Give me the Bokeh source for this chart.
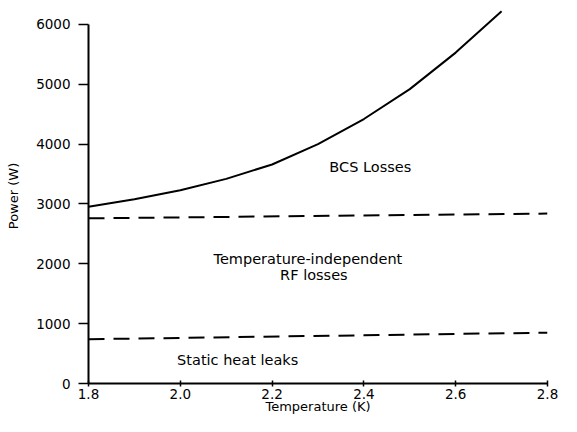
from bokeh.plotting import figure
from bokeh.models import Range1d, FixedTicker
from bokeh.embed import file_html
from bokeh.resources import INLINE
from bokeh.core.properties import value

# Data
temp_bcs = [1.80, 1.90, 2.00, 2.10, 2.20, 2.30, 2.40, 2.50, 2.60, 2.70]
power_total = [2955, 3080, 3230, 3420, 3660, 4000, 4420, 4920, 5530, 6220]

temp_flat = [1.80, 2.80]
power_rf = [2760, 2840]
power_static = [740, 850]

x_ticks = [1.8, 2.0, 2.2, 2.4, 2.6, 2.8]
y_ticks = [0, 1000, 2000, 3000, 4000, 5000, 6000]

labels = ["BCS Losses", "Temperature-independent", "RF losses", "Static heat leaks"]
label_x = [2.414, 2.278, 2.291, 2.125]
label_y = [3620, 2083, 1818, 397]

FONT = "DejaVu Sans"

p = figure(width=561, height=416, output_backend="svg", toolbar_location=None,
           x_range=Range1d(1.8, 2.8), y_range=Range1d(0, 6267),
           min_border_left=88, min_border_right=14, min_border_top=8,
           min_border_bottom=31)
p.outline_line_color = None
p.xgrid.visible = False
p.ygrid.visible = False
p.background_fill_color = "white"

p.line(temp_bcs, power_total, line_color="black", line_width=2)
p.line(temp_flat, power_rf, line_color="black", line_width=2, line_dash="16 9")
p.line(temp_flat, power_static, line_color="black", line_width=2, line_dash="16 9")

p.text(x=label_x, y=label_y, text=labels, text_align="center", text_baseline="middle",
       text_font=value(FONT), text_font_size="14.5px", text_color="black")

for ax in (p.xaxis[0], p.yaxis[0]):
    ax.axis_line_color = "black"
    ax.axis_line_width = 2
    ax.major_tick_line_color = "black"
    ax.major_tick_line_width = 1.5
    ax.minor_tick_line_color = None
    ax.major_label_text_font = FONT
    ax.major_label_text_font_size = "13.5px"
    ax.major_label_text_color = "black"
    ax.axis_label_text_font = FONT
    ax.axis_label_text_font_style = "normal"
    ax.axis_label_text_font_size = "13px"
    ax.axis_label_text_color = "black"

p.xaxis.ticker = FixedTicker(ticks=x_ticks)
p.yaxis.ticker = FixedTicker(ticks=y_ticks)
p.xaxis.bounds = (1.8, 2.8)
p.yaxis.bounds = (0, 6000)
p.xaxis.major_label_overrides = {t: f"{t:.1f}" for t in x_ticks}
p.yaxis.major_label_overrides = {t: str(t) for t in y_ticks}

p.xaxis.axis_label = "Temperature (K)"
p.yaxis.axis_label = "Power (W)"
p.xaxis.major_tick_out = 3
p.xaxis.major_tick_in = 3
p.xaxis.major_label_standoff = 2
p.xaxis.axis_label_standoff = -3
p.yaxis.major_tick_out = 10
p.yaxis.major_tick_in = 0
p.yaxis.major_label_standoff = 8
p.yaxis.axis_label_standoff = 12

open("out.html", "w").write(file_html(p, INLINE))
